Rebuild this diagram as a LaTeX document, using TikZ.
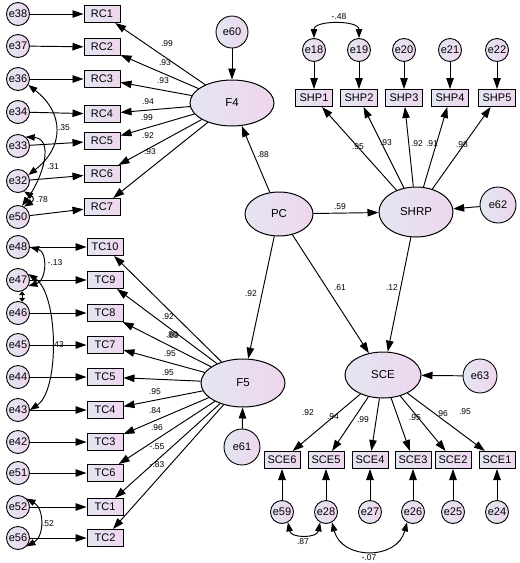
\documentclass[tikz,border=0pt]{standalone}
\usepackage{fontspec}
\setmainfont{Liberation Sans}
\usetikzlibrary{shapes.geometric,arrows.meta}
\definecolor{cA}{HTML}{E4E6F2}
\definecolor{cB}{HTML}{EED6EE}
\begin{document}
\begin{tikzpicture}[x=1pt,y=-1pt,
  every node/.style={inner sep=0pt},
  errc/.style={circle,draw,line width=0.9pt,minimum size=23pt,left color=cA,right color=cB,font=\fontsize{11}{11}\selectfont},
  obs/.style={rectangle,draw,line width=1pt,minimum width=36pt,minimum height=17pt,left color=cA,right color=cB,font=\fontsize{11}{11}\selectfont},
  lat/.style={ellipse,draw,line width=1pt,left color=cA,right color=cB,font=\fontsize{11.5}{11.5}\selectfont},
  arr/.style={-{Triangle[length=11pt,width=7.5pt]},line width=0.95pt},
  cov/.style={{Triangle[length=9pt,width=6.5pt]}-{Triangle[length=9pt,width=6.5pt]},line width=0.95pt},
  num/.style={font=\fontsize{8.5}{8.5}\selectfont}]
\useasboundingbox (0,0) rectangle (520,563);

% ---- latent variables
\node[lat,minimum width=84pt,minimum height=46pt] (F4) at (232,103) {F4};
\node[lat,minimum width=68pt,minimum height=44pt] (PC) at (279,214) {PC};
\node[lat,minimum width=74pt,minimum height=50pt] (SHRP) at (416,212) {SHRP};
\node[lat,minimum width=84pt,minimum height=48pt] (F5) at (243,383) {F5};
\node[lat,minimum width=76pt,minimum height=46pt] (SCE) at (383,375) {SCE};

\node[errc,minimum size=32pt] (e60) at (232,32) {e60};
\node[errc,minimum size=36pt] (e62) at (498,205) {e62};
\node[errc,minimum size=34pt] (e63) at (480,376) {e63};
\node[errc,minimum size=36pt] (e61) at (242,447) {e61};

% ---- RC block
\foreach \n/\e/\ye/\yb in {1/38/14/14, 2/37/46/47, 3/36/79/79, 4/34/112/114, 5/33/146/141, 6/32/181/174, 7/50/217/207}{
  \node[obs] (RC\n) at (102,\yb) {RC\n};
  \node[errc] (e\e) at (18,\ye) {e\e};
}
\foreach \n/\e in {1/38,2/37,3/36,4/34,5/33,6/32,7/50}{
  \draw[arr] (e\e) -- (RC\n);
  \draw[arr] (F4) -- (RC\n);
}

% ---- TC block
\foreach \n/\e/\y in {10/48/247, 9/47/280, 8/46/313, 7/45/345, 5/44/377, 4/43/410, 3/42/442, 6/51/473, 1/52/507, 2/56/538}{
  \node[obs] (TC\n) at (105,\y) {TC\n};
  \node[errc] (e\e) at (18,\y) {e\e};
  \draw[arr] (e\e) -- (TC\n);
  \draw[arr] (F5) -- (TC\n);
}

% ---- SHP block
\foreach \n/\e/\x in {1/18/314, 2/19/359, 3/20/404, 4/21/450, 5/22/497}{
  \node[obs,minimum width=37pt] (SHP\n) at (\x,98) {SHP\n};
  \node[errc] (e\e) at (\x,50) {e\e};
  \draw[arr] (e\e) -- (SHP\n);
  \draw[arr] (SHRP) -- (SHP\n);
}

% ---- SCE block
\foreach \n/\e/\x in {6/59/282, 5/28/326, 4/27/370, 3/26/413, 2/25/453, 1/24/497}{
  \node[obs] (SCE\n) at (\x,460) {SCE\n};
  \node[errc] (e\e) at (\x,512) {e\e};
  \draw[arr] (e\e) -- (SCE\n);
  \draw[arr] (SCE) -- (SCE\n);
}

% ---- structural paths
\draw[arr] (e60) -- (F4);
\draw[arr] (PC) -- (F4);
\draw[arr] (PC) -- (SHRP);
\draw[arr] (PC) -- (F5);
\draw[arr] (PC) -- (SCE);
\draw[arr] (SHRP) -- (SCE);
\draw[arr] (e62) -- (SHRP);
\draw[arr] (e63) -- (SCE);
\draw[arr] (e61) -- (F5);

% ---- covariances
\draw[cov] (e36.-30) .. controls +(36,28) and +(36,-28) .. (e32.30);
\draw[cov] (e33.50) .. controls +(28,2) and +(22,-30) .. (e50.70);
\draw[cov] (e32.-60) .. controls +(10,6) and +(10,-6) .. (e50.60);
\draw[cov] (e48.east) .. controls +(18,5) and +(18,-5) .. (e47.-30);
\draw[cov] (e47.30) .. controls +(30,20) and +(30,-20) .. (e43.east);
\draw[line width=0.9pt,{Triangle[length=4pt,width=6pt]}-{Triangle[length=4pt,width=6pt]}] (e47.-70) -- (e46.70);
\draw[cov] (e52.45) .. controls +(18,10) and +(18,-10) .. (e56.-45);
\draw[cov] (e18.north) .. controls +(0,-18) and +(0,-18) .. (e19.north);
\draw[cov] (e59.-60) .. controls +(3,16) and +(-3,16) .. (e28.-120);
\draw[cov] (e28.-60) .. controls +(10,38) and +(-10,38) .. (e26.-120);

% ---- labels
\node[num] (l1) at (167,44) {.99};
\node[num] (l2) at (165,63) {.93};
\node[num] (l3) at (163,81) {.93};
\node[num] (l4) at (148,102) {.94};
\node[num] (l5) at (147,118) {.99};
\node[num] (l6) at (148,136) {.92};
\node[num] (l7) at (150,152) {.93};
\node[num] (l8) at (263,155) {.88};
\node[num] (l9) at (340,207) {.59};
\node[num] (l10) at (251,294) {.92};
\node[num] (l11) at (340,288) {.61};
\node[num] (l12) at (392,288) {.12};
\node[num] (l13) at (358,147) {.95};
\node[num] (l14) at (386,143) {.93};
\node[num] (l15) at (417,144) {.92};
\node[num] (l16) at (432,144) {.91};
\node[num] (l17) at (462,145) {.98};
\node[num] (l18) at (308,413) {.92};
\node[num] (l19) at (333,417) {.94};
\node[num] (l20) at (363,420) {.99};
\node[num] (l21) at (415,418) {.95};
\node[num] (l22) at (442,414) {.96};
\node[num] (l23) at (465,412) {.95};
\node[num] (l24) at (168,317) {.92};
\node[num] (l25) at (172,335) {.80};
\node[num] (l26) at (173,336) {.89};
\node[num] (l27) at (170,354) {.95};
\node[num] (l28) at (168,373) {.95};
\node[num] (l29) at (155,392) {.95};
\node[num] (l30) at (155,411) {.84};
\node[num] (l31) at (157,428) {.96};
\node[num] (l32) at (157,447) {-.55};
\node[num] (l33) at (157,465) {-.83};
\node[num] (l34) at (64,128) {.35};
\node[num] (l35) at (53,167) {.31};
\node[num] (l36) at (42,200) {.78};
\node[num] (l37) at (55,263) {-.13};
\node[num] (l38) at (58,345) {.43};
\node[num] (l39) at (48,524) {.52};
\node[num] (l40) at (339,17) {-.48};
\node[num] (l41) at (303,542) {.87};
\node[num] (l42) at (369,558) {-.07};
\end{tikzpicture}
\end{document}
